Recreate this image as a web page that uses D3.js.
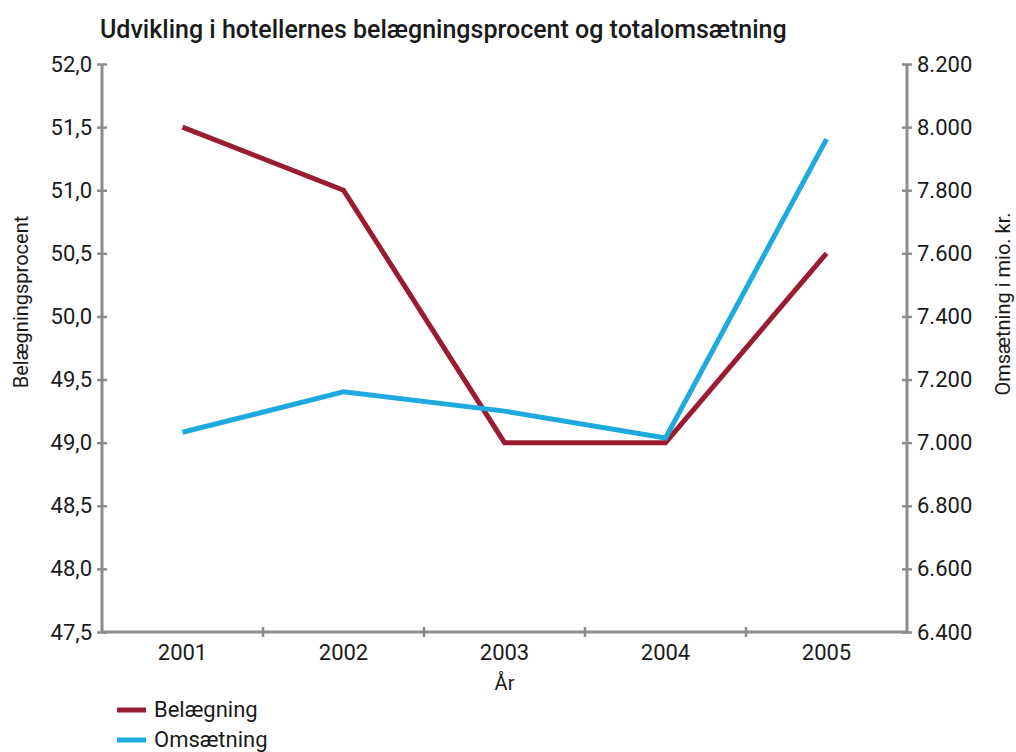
<!DOCTYPE html>
<html>
<head>
<meta charset="utf-8">
<script src="https://cdn.jsdelivr.net/npm/d3@7"></script>
<style>
  body { margin: 0; background: #fff; }
  text { font-family: Roboto, "Liberation Sans", sans-serif; fill: #1a1a1a; }
</style>
</head>
<body>
<div id="chart"></div>
<script>
// chart data
const years = ['2001', '2002', '2003', '2004', '2005'];
const belaegning = [51.5, 51.0, 49.0, 49.0, 50.5];
const omsaetning = [7033, 7161, 7100, 7015, 7962];
const leftTicks = [47.5, 48.0, 48.5, 49.0, 49.5, 50.0, 50.5, 51.0, 51.5, 52.0];
const rightTicks = [6400, 6600, 6800, 7000, 7200, 7400, 7600, 7800, 8000, 8200];
const seriesNames = ['Belægning', 'Omsætning'];
const colors = ['#9a1c33', '#1eaadf'];

const width = 1016, height = 752;
const margin = { top: 64, right: 109, bottom: 120, left: 102 };

const svg = d3.select('#chart')
    .append('svg')
    .attr('width', width)
    .attr('height', height);

const x = d3.scaleBand()
    .domain(years)
    .range([margin.left, width - margin.right]);

const yLeft = d3.scaleLinear()
    .domain([47.5, 52])
    .range([height - margin.bottom, margin.top]);

const yRight = d3.scaleLinear()
    .domain([6400, 8200])
    .range([height - margin.bottom, margin.top]);

const fmtLeft = d => d.toFixed(1).replace('.', ',');
const fmtRight = d => d3.format(',')(d).replace(',', '.');

const axisColor = '#8c8c8c';

// left axis
const gl = svg.append('g')
    .attr('transform', `translate(${margin.left},0)`)
    .call(d3.axisLeft(yLeft).tickValues(leftTicks).tickFormat(fmtLeft).tickSize(5).tickPadding(5));
gl.selectAll('.tick line').attr('x2', -5).attr('x1', 5);

// right axis
const gr = svg.append('g')
    .attr('transform', `translate(${width - margin.right},0)`)
    .call(d3.axisRight(yRight).tickValues(rightTicks).tickFormat(fmtRight).tickSize(5).tickPadding(5));
gr.selectAll('.tick line').attr('x1', -5).attr('x2', 5);

// x axis
const gx = svg.append('g')
    .attr('transform', `translate(0,${height - margin.bottom})`)
    .call(d3.axisBottom(x).tickSize(0).tickPadding(12));

// tick marks between the year bands
const bounds = years.slice(1).map(y => x(y));
gx.selectAll('.bound')
    .data(bounds)
    .enter()
    .append('line')
    .attr('x1', d => d).attr('x2', d => d)
    .attr('y1', -5).attr('y2', 5)
    .attr('stroke', axisColor)
    .attr('stroke-width', 2.5);

[gl, gr, gx].forEach(g => {
    g.select('.domain').attr('stroke', axisColor).attr('stroke-width', 3);
    g.selectAll('.tick line').attr('stroke', axisColor).attr('stroke-width', 2.5);
    g.selectAll('text').style('font-size', '22px').attr('fill', '#1a1a1a')
        .style('font-family', 'Roboto, sans-serif');
});
gl.select('.domain').attr('d', `M0,${height - margin.bottom}V${margin.top}`);
gr.select('.domain').attr('d', `M0,${height - margin.bottom}V${margin.top}`);
gx.select('.domain').attr('d', `M${margin.left},0H${width - margin.right}`);

// lines
const cx = d => x(d) + x.bandwidth() / 2;

svg.append('path')
    .datum(belaegning)
    .attr('fill', 'none')
    .attr('stroke', colors[0])
    .attr('stroke-width', 5)
    .attr('d', d3.line().x((d, i) => cx(years[i])).y(d => yLeft(d)));

svg.append('path')
    .datum(omsaetning)
    .attr('fill', 'none')
    .attr('stroke', colors[1])
    .attr('stroke-width', 5)
    .attr('d', d3.line().x((d, i) => cx(years[i])).y(d => yRight(d)));

// titles
svg.append('text')
    .attr('x', 100)
    .attr('y', 38)
    .style('font-size', '25px')
    .style('font-weight', 500)
    .text('Udvikling i hotellernes belægningsprocent og totalomsætning');

svg.append('text')
    .attr('transform', 'translate(28,302) rotate(-90)')
    .attr('text-anchor', 'middle')
    .style('font-size', '20px')
    .text('Belægningsprocent');

svg.append('text')
    .attr('transform', 'translate(1010,304) rotate(-90)')
    .attr('text-anchor', 'middle')
    .style('font-size', '20px')
    .text('Omsætning i mio. kr.');

svg.append('text')
    .attr('x', cx('2003'))
    .attr('y', 690)
    .attr('text-anchor', 'middle')
    .style('font-size', '20px')
    .text('År');

// legend
const legend = svg.selectAll('.legend')
    .data(seriesNames)
    .enter()
    .append('g')
    .attr('class', 'legend')
    .attr('transform', (d, i) => `translate(117,${710 + i * 30})`);

legend.append('line')
    .attr('x1', 0).attr('x2', 29)
    .attr('stroke', (d, i) => colors[i])
    .attr('stroke-width', 5);

legend.append('text')
    .attr('x', 37)
    .attr('y', 7)
    .style('font-size', '22px')
    .text(d => d);
</script>
</body>
</html>
